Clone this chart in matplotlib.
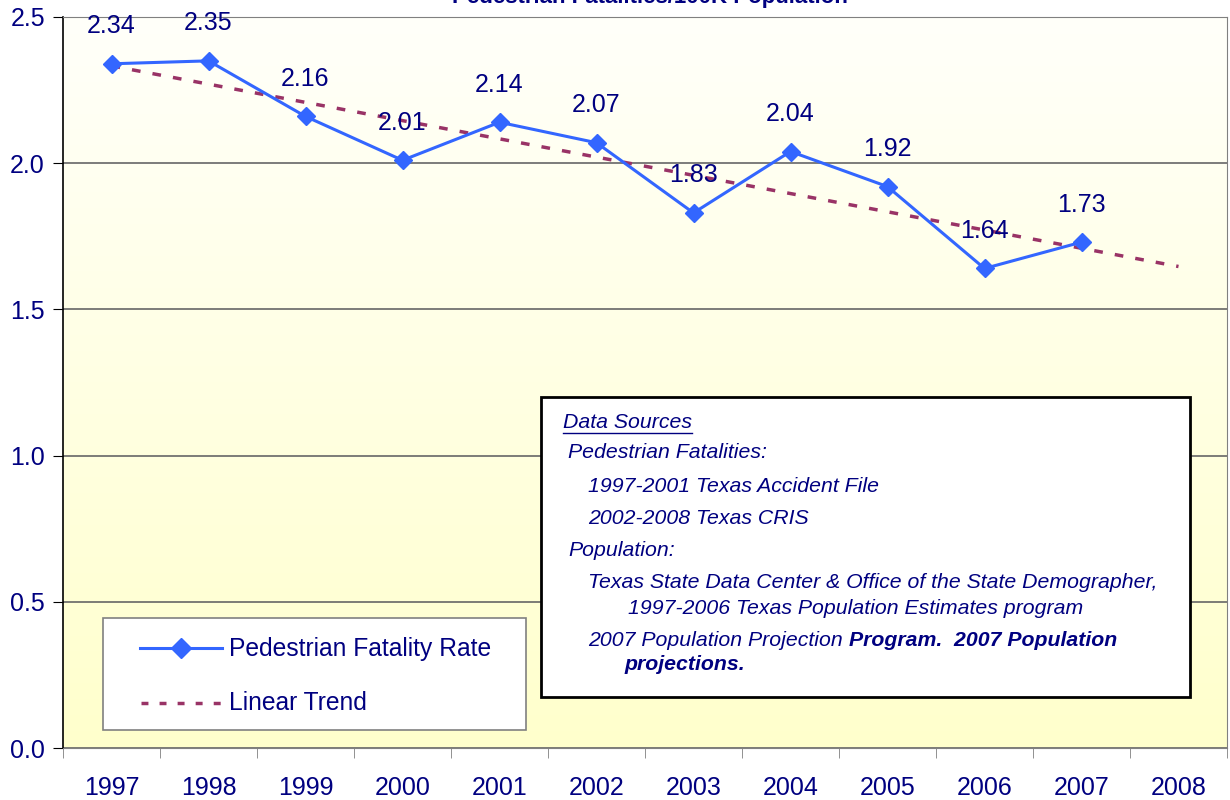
#!/usr/bin/env python3
"""Pedestrian fatalities per 100K population, Texas 1997-2008"""

import numpy as np
import matplotlib.pyplot as plt
from matplotlib import rcParams
from matplotlib.colors import LinearSegmentedColormap
from matplotlib.lines import Line2D
from matplotlib.patches import Rectangle

rcParams['font.family'] = ['Liberation Sans', 'DejaVu Sans']

# Data
years = ['1997', '1998', '1999', '2000', '2001', '2002', '2003', '2004',
         '2005', '2006', '2007', '2008']
rates = [2.34, 2.35, 2.16, 2.01, 2.14, 2.07, 1.83, 2.04, 1.92, 1.64, 1.73]
y_ticks = [0.0, 0.5, 1.0, 1.5, 2.0, 2.5]

navy = '#000080'
blue = '#3366FF'
maroon = '#993366'

fig = plt.figure(figsize=(12.3, 8), dpi=100)
ax = fig.add_axes([63 / 1230, 52 / 800, 1164 / 1230, 731 / 800])

x = np.arange(len(years))
xr = x[:len(rates)]

# Gradient background: near white at top to pale yellow at bottom
cmap = LinearSegmentedColormap.from_list('bg', ['#FFFFFA', '#FFFFCC'])
grad = np.linspace(0, 1, 256).reshape(-1, 1)
ax.imshow(grad, cmap=cmap, aspect='auto', extent=[0, 1, 0, 1],
          transform=ax.transAxes, zorder=0)

ax.set_xlim(-0.5, len(years) - 0.5)
ax.set_ylim(0, 2.5)

# Gridlines
for yv in y_ticks:
    ax.axhline(yv, color='#666666', linewidth=1.2, zorder=1)

# Linear trend over the data years, extended one year
slope, intercept = np.polyfit(xr, rates, 1)
ax.plot(x, slope * x + intercept, color=maroon, linewidth=2.5,
        linestyle=(0, (2.5, 3.5)), zorder=2)

# Data series
ax.plot(xr, rates, color=blue, linewidth=2.2, marker='D', markersize=9,
        zorder=3)

for xi, yi in zip(xr, rates):
    ax.annotate(f'{yi:.2f}', (xi, yi), xytext=(0, 27),
                textcoords='offset points', ha='center', va='center',
                fontsize=18, color=navy, zorder=4)

# Axes styling
ax.set_yticks(y_ticks)
ax.set_yticklabels([f'{v:.1f}' for v in y_ticks])
ax.set_xticks(x)
ax.set_xticklabels(years)
ax.set_xticks(np.arange(-0.5, len(years)), minor=True)
ax.tick_params(axis='x', which='major', length=0, pad=20, labelsize=18,
               labelcolor=navy)
ax.tick_params(axis='x', which='minor', length=7, color='#808080',
               direction='out')
ax.tick_params(axis='y', length=7, direction='out', labelsize=18,
               labelcolor=navy, pad=6)
ax.spines['left'].set_color('black')
ax.spines['left'].set_linewidth(1.2)
ax.spines['bottom'].set_color('#808080')
ax.spines['top'].set_color('#808080')
ax.spines['right'].set_color('#808080')

# Title (cut off at the top edge in the original)
fig.text(650 / 1230, 1 - 3 / 800, 'Pedestrian Fatalities/100K Population',
         ha='center', va='baseline', fontsize=16, fontweight='bold',
         color=navy)

# Legend box
def px(xp, yp):
    return xp / 1230, 1 - yp / 800

lx0, ly0 = px(103, 730)
lx1, ly1 = px(526, 618)
fig.patches.append(Rectangle((lx0, ly0), lx1 - lx0, ly1 - ly0,
                             transform=fig.transFigure, facecolor='white',
                             edgecolor='#808080', linewidth=1.2, zorder=5))
fig.lines.append(Line2D([140 / 1230, 222 / 1230], [px(0, 648)[1]] * 2,
                        transform=fig.transFigure, color=blue, linewidth=2.2,
                        zorder=6))
fig.lines.append(Line2D([181 / 1230], [px(0, 648)[1]], marker='D',
                        markersize=10, color=blue, transform=fig.transFigure,
                        zorder=7))
fig.lines.append(Line2D([141 / 1230, 222 / 1230], [px(0, 703)[1]] * 2,
                        transform=fig.transFigure, color=maroon, linewidth=2.5,
                        linestyle=(0, (2.0, 3.2)), zorder=6))
fig.text(*px(229, 649), 'Pedestrian Fatality Rate', fontsize=17.7,
         color=navy, va='center', zorder=7)
fig.text(*px(229, 703), 'Linear Trend', fontsize=17.7, color=navy,
         va='center', zorder=7)

# Data sources box
bx0, by0 = px(541, 697)
bx1, by1 = px(1190, 397)
fig.patches.append(Rectangle((bx0, by0), bx1 - bx0, by1 - by0,
                             transform=fig.transFigure, facecolor='white',
                             edgecolor='black', linewidth=2, zorder=5))

src_size = 15.3
src_lines = [
    (563, 422, 'Data Sources', 'normal'),
    (568, 453, 'Pedestrian Fatalities:', 'normal'),
    (588, 487, '1997-2001 Texas Accident File', 'normal'),
    (588, 519, '2002-2008 Texas CRIS', 'normal'),
    (568, 551, 'Population:', 'normal'),
    (588, 583, 'Texas State Data Center & Office of the State Demographer,',
     'normal'),
    (628, 608, '1997-2006 Texas Population Estimates program', 'normal'),
    (588, 641, '2007 Population Projection ', 'normal'),
    (624, 665, 'projections.', 'bold'),
]
src_texts = []
for xp, yp, s, w in src_lines:
    t = fig.text(*px(xp, yp), s, fontsize=src_size, style='italic',
                 fontweight=w, color=navy, va='center', zorder=7)
    src_texts.append(t)

renderer = fig.canvas.get_renderer()
# Underline "Data Sources"
bb = src_texts[0].get_window_extent(renderer)
fig.lines.append(Line2D([bb.x0 / 1230, bb.x1 / 1230],
                        [(bb.y0 - 1) / 800] * 2, transform=fig.transFigure,
                        color=navy, linewidth=1, zorder=7))
# Bold continuation after the projection line
bb = src_texts[7].get_window_extent(renderer)
fig.text(bb.x1 / 1230, px(0, 641)[1], 'Program.  2007 Population',
         fontsize=src_size, style='italic', fontweight='bold', color=navy,
         va='center', zorder=7)

plt.savefig('out.png', dpi=100)
